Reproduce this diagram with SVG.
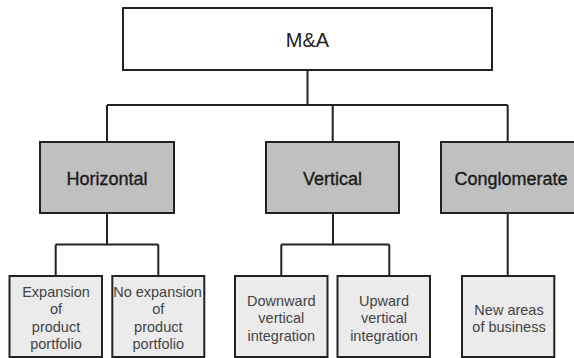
<svg xmlns="http://www.w3.org/2000/svg" width="574" height="358" viewBox="0 0 574 358">
  <style>
    .box { stroke: #222; stroke-width: 2; }
    .root { fill: #ffffff; }
    .mid { fill: #c0c0c0; }
    .leaf { fill: #ebebeb; }
    .conn { fill: none; stroke: #222; stroke-width: 2; }
    text { font-family: "Liberation Sans", Arial, sans-serif; text-anchor: middle; }
    .t-root { font-size: 20px; fill: #222; }
    .t-mid { font-size: 18px; fill: #1a1a1a; stroke: #1a1a1a; stroke-width: 0.35; }
    .t-leaf { font-size: 14.5px; fill: #444; }
  </style>
  <rect width="574" height="358" fill="#ffffff"/>

  <!-- connectors -->
  <g id="connectors" class="conn">
    <path d="M307.5 70 V105 M107 105 H507.7 M107 105 V142 M332.7 105 V142 M507.7 105 V142"/>
    <path d="M107 213 V244.5 M55.7 244.5 H158.3 M55.7 244.5 V276 M158.3 244.5 V276"/>
    <path d="M333 213 V244.5 M281.3 244.5 H389.3 M281.3 244.5 V276 M389.3 244.5 V276"/>
    <path d="M507.7 213 V276"/>
  </g>

  <!-- root -->
  <g id="node-ma">
    <rect class="box root" x="123" y="8" width="369" height="62"/>
    <text class="t-root" x="307.5" y="47">M&amp;A</text>
  </g>

  <!-- second level -->
  <g id="node-horizontal">
    <rect class="box mid" x="40" y="142" width="134" height="71"/>
    <text class="t-mid" x="107" y="185">Horizontal</text>
  </g>
  <g id="node-vertical">
    <rect class="box mid" x="266" y="142" width="133" height="71"/>
    <text class="t-mid" x="332.5" y="185">Vertical</text>
  </g>
  <g id="node-conglomerate">
    <rect class="box mid" x="441" y="142" width="134" height="71"/>
    <text class="t-mid" x="511" y="185">Conglomerate</text>
  </g>

  <!-- leaves -->
  <g id="node-expansion">
    <rect class="box leaf" x="9.5" y="276" width="92.5" height="81"/>
    <text class="t-leaf" x="56" y="297">Expansion</text>
    <text class="t-leaf" x="56" y="314.3">of</text>
    <text class="t-leaf" x="56" y="331.6">product</text>
    <text class="t-leaf" x="56" y="348.9">portfolio</text>
  </g>
  <g id="node-no-expansion">
    <rect class="box leaf" x="112.3" y="276" width="92" height="81"/>
    <text class="t-leaf" x="157.5" y="297">No expansion</text>
    <text class="t-leaf" x="158.3" y="314.3">of</text>
    <text class="t-leaf" x="158.3" y="331.6">product</text>
    <text class="t-leaf" x="158.3" y="348.9">portfolio</text>
  </g>
  <g id="node-downward">
    <rect class="box leaf" x="235" y="276" width="92.5" height="81"/>
    <text class="t-leaf" x="281.3" y="306">Downward</text>
    <text class="t-leaf" x="281.3" y="323.3">vertical</text>
    <text class="t-leaf" x="281.3" y="340.6">integration</text>
  </g>
  <g id="node-upward">
    <rect class="box leaf" x="337.5" y="276" width="92.5" height="81"/>
    <text class="t-leaf" x="384" y="306">Upward</text>
    <text class="t-leaf" x="384" y="323.3">vertical</text>
    <text class="t-leaf" x="384" y="340.6">integration</text>
  </g>
  <g id="node-new-areas">
    <rect class="box leaf" x="462" y="276" width="92.3" height="81"/>
    <text class="t-leaf" x="509" y="315">New areas</text>
    <text class="t-leaf" x="509" y="332.3">of business</text>
  </g>
</svg>
